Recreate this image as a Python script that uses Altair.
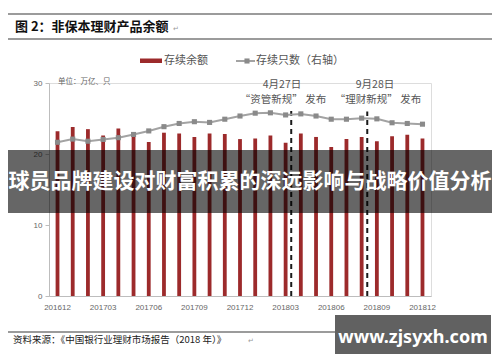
import altair as alt
import pandas as pd

months = ["201612", "201701", "201702", "201703", "201704", "201705", "201706",
          "201707", "201708", "201709", "201710", "201711", "201712", "201801",
          "201802", "201803", "201804", "201805", "201806", "201807", "201808",
          "201809", "201810", "201811", "201812"]
balance = [23.2, 23.8, 23.5, 22.6, 23.6, 22.8, 21.7, 23.0, 22.9, 22.4, 22.9, 22.8,
           22.1, 22.2, 22.6, 21.6, 22.9, 22.4, 21.0, 22.1, 22.4, 21.8, 22.5, 22.7, 22.2]
count = [43300, 44200, 43600, 44100, 44600, 45500, 46500, 47700, 48600, 49100,
         48900, 49800, 50700, 51500, 51600, 51000, 51300, 50700, 49800, 49800,
         50100, 49900, 48800, 48600, 48400]
tick_months = months[::3]
left_ticks = [0, 5, 10, 15, 20, 25, 30]
right_ticks = [0, 10000, 20000, 30000, 40000, 50000, 60000]
event_months = ["201803", "201808"]
event_top = [26.2, 26.0]
event_dates = ["4月27日", "9月28日"]
event_names = ["“资管新规” 发布", "“理财新规” 发布"]

W, H = 382, 213
RED = "#9c2a2b"
GRAY_LINE = "#a3a3a3"
MARK_GRAY = "#8a8a8a"
FONT = "Noto Sans CJK SC"

df = pd.DataFrame({"month": months, "balance": balance, "count": count})
ev = pd.DataFrame({"month": event_months, "top": event_top, "zero": [0, 0]})
one = pd.DataFrame({"a": [0]})

xscale = alt.Scale(paddingInner=0.5, paddingOuter=0.31)
step = W / (25 - 0.5 + 0.62)

xenc = alt.X("month:O", scale=xscale, sort=months,
             axis=alt.Axis(title=None, values=tick_months, labelAngle=0, ticks=False,
                           domainColor="#bdbdbd", labelColor="#666", labelFontSize=8,
                           labelPadding=7, labelFont="Liberation Sans"))

bars = alt.Chart(df).mark_bar(color=RED, width=alt.RelativeBandSize(0.5)).encode(
    x=xenc,
    y=alt.Y("balance:Q", scale=alt.Scale(domain=[0, 30], nice=False),
            axis=alt.Axis(title=None, values=left_ticks, domainColor="#bdbdbd",
                          tickColor="#bdbdbd", tickSize=4, labelColor="#666",
                          labelFontSize=8, labelPadding=3, grid=False,
                          labelFont="Liberation Sans")),
)
rules = alt.Chart(ev).mark_rule(color="#1a1a1a", strokeWidth=2, strokeDash=[5, 4],
                                xOffset=step / 2 - 2).encode(
    x=alt.X("month:O", sort=months, scale=xscale),
    y=alt.Y("zero:Q"),
    y2="top:Q",
)
left = alt.layer(bars, rules)

line = alt.Chart(df).mark_line(color=GRAY_LINE, strokeWidth=2).encode(
    x=alt.X("month:O", sort=months, scale=xscale),
    y=alt.Y("count:Q", scale=alt.Scale(domain=[0, 60000], nice=False),
            axis=alt.Axis(title=None, orient="right", values=right_ticks, format=",",
                          domainColor="#bdbdbd", tickColor="#bdbdbd", tickSize=4,
                          labelColor="#666", labelFontSize=8, labelPadding=5,
                          grid=False, labelFont="Liberation Sans")),
)
pts = alt.Chart(df).mark_point(shape="square", filled=True, color=MARK_GRAY, size=26,
                               opacity=1).encode(
    x=alt.X("month:O", sort=months, scale=xscale),
    y=alt.Y("count:Q", scale=alt.Scale(domain=[0, 60000], nice=False), axis=None),
)
right = alt.layer(line, pts)

main = alt.layer(left, right).resolve_scale(y="independent")


def hrule(x1, x2, y, color="#7a7a7a", w=1.5):
    return alt.Chart(one).mark_rule(color=color, strokeWidth=w).encode(
        x=alt.value(x1), x2=alt.value(x2), y=alt.value(y))


def txt(s, x, y, size, color="#333", weight="normal", align="left", font=FONT):
    return alt.Chart(one).mark_text(text=s, fontSize=size, color=color,
                                    fontWeight=weight, align=align,
                                    baseline="middle", font=font).encode(
        x=alt.value(x), y=alt.value(y))


def box(x1, x2, y1, y2, color, opacity):
    return alt.Chart(one).mark_rect(color=color, opacity=opacity).encode(
        x=alt.value(x1), x2=alt.value(x2), y=alt.value(y1), y2=alt.value(y2))


deco = [
    hrule(-44, 446, -69),
    hrule(-44, 446, -44),
    txt("图 2：非保本理财产品余额", -34, -56, 13, "#111", "bold"),
    txt("↵", 124, -54, 7, "#999"),
    box(91, 113, -24.5, -20, RED, 1),
    txt("存续余额", 115, -22, 11, "#555"),
    alt.Chart(one).mark_rule(color=GRAY_LINE, strokeWidth=2).encode(
        x=alt.value(187), x2=alt.value(206), y=alt.value(-22)),
    alt.Chart(one).mark_point(shape="square", filled=True, color=MARK_GRAY, size=26,
                              opacity=1).encode(x=alt.value(198), y=alt.value(-22)),
    txt("存续只数（右轴）", 207, -22, 11, "#555"),
    txt("单位：万亿、只", 9, -1, 7.5, "#666"),
    txt(event_dates[0], 233, 2, 10.5, "#555", align="center"),
    txt(event_names[0], 234, 17, 10.5, "#555", align="center"),
    txt(event_dates[1], 326, 2, 10.5, "#555", align="center"),
    txt(event_names[1], 329, 17, 10.5, "#555", align="center"),
    hrule(-44, 286, 249),
    txt("资料来源：《中国银行业理财市场报告（2018 年）》", -36, 257, 9.5, "#222"),
    txt("↵", 199, 258, 7, "#999"),
    box(-41, 443, 67, 130, "#000", 0.6),
    txt("球员品牌建设对财富积累的深远影响与战略价值分析", 201, 99, 21, "#ffffff", "bold",
        align="center"),
    box(286, 442, 232, 279, "#000", 0.62),
    txt("www.zjsyxh.com", 364, 255, 18, "#ffffff", "bold", align="center",
        font="Noto Sans"),
]

chart = alt.layer(main, *deco).properties(
    width=W, height=H,
    autosize=alt.AutoSizeParams(type="none"),
    padding={"left": 41, "top": 75, "right": 61, "bottom": 58},
).configure_view(stroke=None).configure(font=FONT)

chart.save("out.html", embed_options={"renderer": "svg", "actions": False})
